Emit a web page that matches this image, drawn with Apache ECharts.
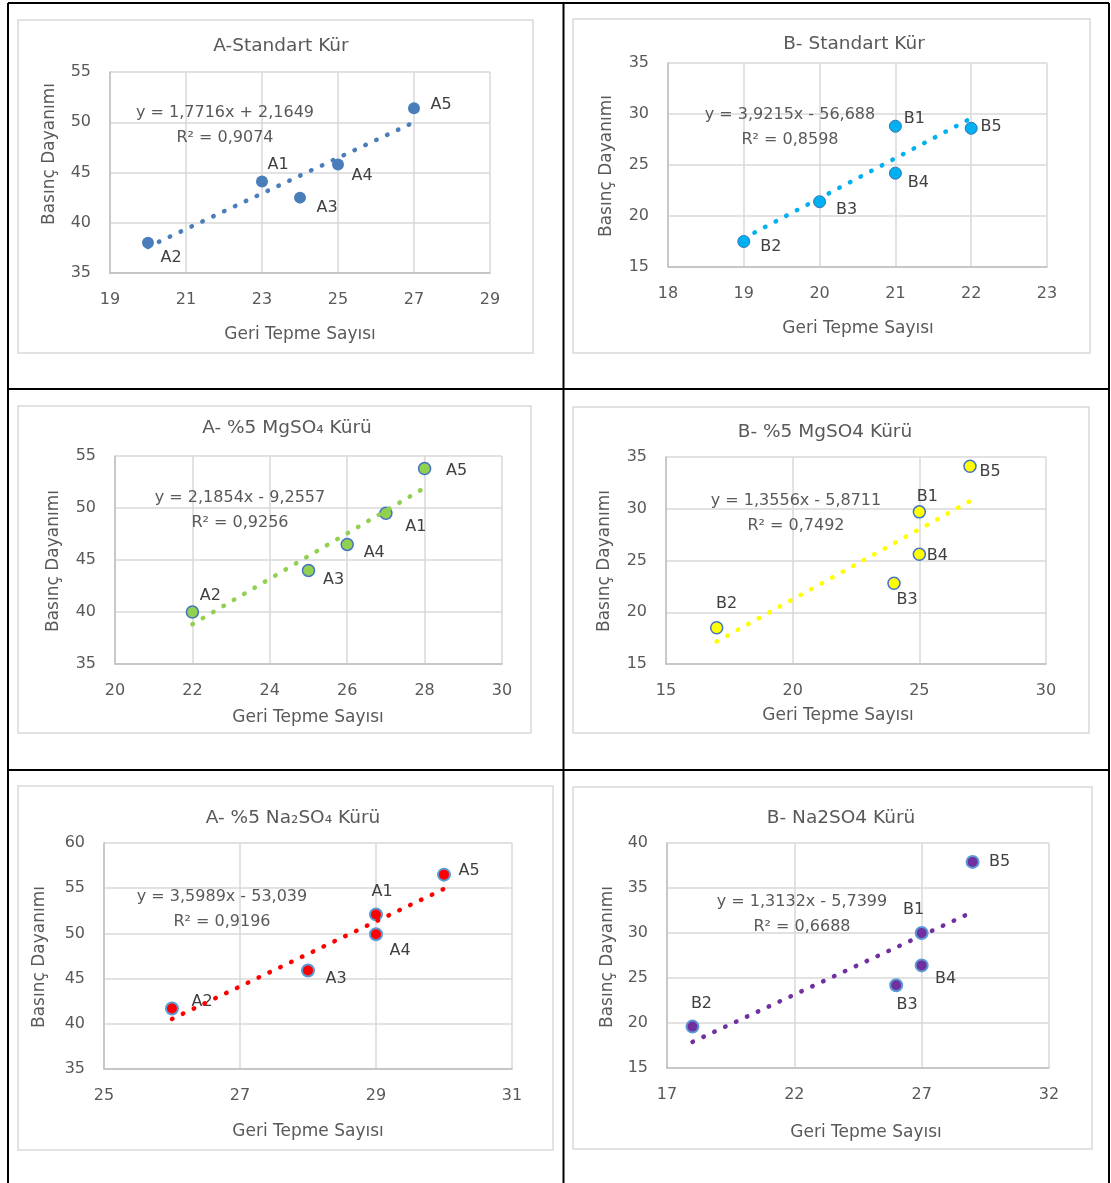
<!DOCTYPE html>
<html>
<head>
<meta charset="utf-8">
<title>Geri Tepme Sayısı - Basınç Dayanımı</title>
<script src="https://cdn.jsdelivr.net/npm/echarts@6/dist/echarts.min.js"></script>
<style>
  html, body { margin: 0; padding: 0; background: #fff; }
  #main { width: 1111px; height: 1183px; }
</style>
</head>
<body>
<div id="main"></div>
<script>
// numune isimleri
var aNames = ['A1', 'A2', 'A3', 'A4', 'A5'];
var bNames = ['B1', 'B2', 'B3', 'B4', 'B5'];

// standart kür (x: geri tepme sayısı, y: basınç dayanımı)
var aStdX = [23, 20, 24, 25, 27];
var aStdY = [44.1, 38.0, 42.5, 45.8, 51.4];
var bStdX = [21, 19, 20, 21, 22];
var bStdY = [28.8, 17.5, 21.4, 24.2, 28.6];
// %5 MgSO4 kürü
var aMgX = [27, 22, 25, 26, 28];
var aMgY = [49.5, 40.0, 44.0, 46.5, 53.8];
var bMgX = [25, 17, 24, 25, 27];
var bMgY = [29.7, 18.5, 22.8, 25.6, 34.1];
// %5 Na2SO4 kürü
var aNaX = [29, 26, 28, 29, 30];
var aNaY = [52.1, 41.7, 45.9, 49.9, 56.5];
var bNaX = [27, 18, 26, 27, 29];
var bNaY = [30.0, 19.6, 24.2, 26.4, 37.9];

// doğrusal eğilim çizgisi katsayıları (grafiklerde yazan)
var slopes = [1.7716, 3.9215, 2.1854, 1.3556, 3.5989, 1.3132];
var intercepts = [2.1649, -56.688, -9.2557, -5.8711, -53.039, -5.7399];
var r2 = [0.9074, 0.8598, 0.9256, 0.7492, 0.9196, 0.6688];

var titles = ['A-Standart Kür', 'B- Standart Kür', 'A- %5 MgSO\u2084 Kürü',
  'B- %5 MgSO4 Kürü', 'A- %5 Na\u2082SO\u2084 Kürü', 'B- Na2SO4 Kürü'];
var xTitle = 'Geri Tepme Sayısı';
var yTitle = 'Basınç Dayanımı';

// eksen ölçekleri: [min, max, aralık]
var xTicks = [[19, 29, 2], [18, 23, 1], [20, 30, 2], [15, 30, 5], [25, 31, 2], [17, 32, 5]];
var yTicks = [[35, 55, 5], [15, 35, 5], [35, 55, 5], [15, 35, 5], [35, 60, 5], [15, 40, 5]];

(function () {
  var myChart = echarts.init(document.getElementById('main'));
  var FONT = '"DejaVu Sans", sans-serif';
  var GRAY = '#595959';

  // her panelin yerleşimi ve renkleri
  var panels = [
    { x: aStdX, y: aStdY, names: aNames, fill: '#4a7ebb', border: '#4a7ebb', bw: 0, trend: '#4a7ebb',
      grid: [110, 72, 380, 201], frame: [18, 20, 515, 333], title: [281, 46], eq: [225, 125.5],
      xName: [300, 335], yName: [50, 154],
      lbl: [[16, -17], [23, 15], [27, 10], [24, 11], [27, -3]] },
    { x: bStdX, y: bStdY, names: bNames, fill: '#00b0f0', border: '#2e75b6', bw: 1, trend: '#00b0f0',
      grid: [668, 63, 379, 204], frame: [573, 19, 517, 334], title: [854, 44], eq: [790, 127.5],
      xName: [858, 329], yName: [607, 166],
      lbl: [[19, -7], [27, 5], [27, 8], [23, 10], [20, -1]] },
    { x: aMgX, y: aMgY, names: aNames, fill: '#92d050', border: '#4472c4', bw: 1.5, trend: '#92d050',
      grid: [115, 456, 387, 208], frame: [18, 406, 513, 327], title: [287, 428.5], eq: [240, 510],
      xName: [308, 718], yName: [53.5, 561],
      lbl: [[30, 14], [18, -16], [25, 9], [27, 8], [32, 2]] },
    { x: bMgX, y: bMgY, names: bNames, fill: '#ffff00', border: '#4472c4', bw: 1.5, trend: '#ffff00',
      grid: [666, 457, 380, 207], frame: [573, 407, 516, 326], title: [825, 432], eq: [796, 513],
      xName: [838, 716], yName: [605, 561],
      lbl: [[8, -15], [10, -24], [13, 17], [18, 2], [20, 6]] },
    { x: aNaX, y: aNaY, names: aNames, fill: '#ff0000', border: '#5b9bd5', bw: 2, trend: '#ff0000',
      grid: [104, 843, 408, 226], frame: [18, 786, 535, 364], title: [293, 818], eq: [222, 909],
      xName: [308, 1132], yName: [40, 957],
      lbl: [[6, -23], [30, -7], [28, 8], [24, 17], [25, -4]] },
    { x: bNaX, y: bNaY, names: bNames, fill: '#7030a0', border: '#5b9bd5', bw: 2, trend: '#7030a0',
      grid: [667, 843, 382, 225], frame: [573, 787, 519, 362], title: [841, 818], eq: [802, 914],
      xName: [866, 1133], yName: [608, 957],
      lbl: [[-8, -23], [9, -23], [11, 20], [24, 13], [27, 0]] }
  ];

  function num(v) {
    return String(Math.abs(v)).replace('.', ',');
  }

  var grids = [], xAxes = [], yAxes = [], series = [], graphics = [];

  // tablo çizgileri
  [[8, 3, 8, 1183], [563.5, 3, 563.5, 1183], [1109, 3, 1109, 1183],
   [8, 3, 1109, 3], [8, 389, 1109, 389], [8, 770, 1109, 770]].forEach(function (l) {
    graphics.push({
      type: 'line', silent: true, z: 1,
      shape: { x1: l[0], y1: l[1], x2: l[2], y2: l[3] },
      style: { stroke: '#000', lineWidth: 2 }
    });
  });

  panels.forEach(function (p, i) {
    grids.push({ left: p.grid[0], top: p.grid[1], width: p.grid[2], height: p.grid[3] });

    xAxes.push({
      type: 'value', gridIndex: i,
      min: xTicks[i][0], max: xTicks[i][1], interval: xTicks[i][2],
      axisLine: { show: true, lineStyle: { color: '#bfbfbf', width: 1.5 } },
      axisTick: { show: false },
      axisLabel: { margin: 19, color: GRAY, fontSize: 16, fontFamily: FONT },
      splitLine: { show: true, lineStyle: { color: '#d9d9d9', width: 1.5 } }
    });
    yAxes.push({
      type: 'value', gridIndex: i,
      min: yTicks[i][0], max: yTicks[i][1], interval: yTicks[i][2],
      axisLine: { show: true, lineStyle: { color: '#bfbfbf', width: 1.5 } },
      axisTick: { show: false },
      axisLabel: { margin: 19, color: GRAY, fontSize: 16, fontFamily: FONT },
      splitLine: { show: true, lineStyle: { color: '#d9d9d9', width: 1.5 } }
    });

    // noktalar + etiketler
    series.push({
      type: 'scatter', xAxisIndex: i, yAxisIndex: i,
      symbolSize: 12, z: 3,
      itemStyle: { color: p.fill, borderColor: p.border, borderWidth: p.bw, opacity: 1 },
      label: {
        show: true, position: 'inside', color: '#404040', fontSize: 16, fontFamily: FONT,
        formatter: function (d) { return p.names[d.dataIndex]; }
      },
      data: p.x.map(function (xv, k) {
        return { value: [xv, p.y[k]], label: { offset: p.lbl[k] } };
      })
    });

    // eğilim çizgisi (noktalı)
    var x0 = Math.min.apply(null, p.x), x1 = Math.max.apply(null, p.x);
    series.push({
      type: 'line', xAxisIndex: i, yAxisIndex: i,
      symbol: 'none', silent: true, z: 4,
      lineStyle: { color: p.trend, width: 4.5, type: [0.5, 11.5], cap: 'round' },
      data: [[x0, slopes[i] * x0 + intercepts[i]], [x1, slopes[i] * x1 + intercepts[i]]]
    });

    // grafik çerçevesi
    graphics.push({
      type: 'rect', silent: true, z: 1,
      shape: { x: p.frame[0], y: p.frame[1], width: p.frame[2], height: p.frame[3] },
      style: { fill: null, stroke: '#d9d9d9', lineWidth: 1.5 }
    });
    // başlık
    graphics.push({
      type: 'text', x: p.title[0], y: p.title[1], z: 5,
      style: { text: titles[i], fill: GRAY, font: '18.5px ' + FONT, align: 'center', verticalAlign: 'middle' }
    });
    // eksen başlıkları
    graphics.push({
      type: 'text', x: p.xName[0], y: p.xName[1], z: 5,
      style: { text: xTitle, fill: GRAY, font: '17px ' + FONT, align: 'center', verticalAlign: 'middle' }
    });
    graphics.push({
      type: 'text', x: p.yName[0], y: p.yName[1], rotation: Math.PI / 2, z: 5,
      style: { text: yTitle, fill: GRAY, font: '17px ' + FONT, align: 'center', verticalAlign: 'middle' }
    });
    // denklem
    var eq = 'y = ' + num(slopes[i]) + 'x ' + (intercepts[i] < 0 ? '- ' : '+ ') + num(intercepts[i]) +
      '\nR² = ' + num(r2[i]);
    graphics.push({
      type: 'text', x: p.eq[0], y: p.eq[1], z: 5,
      style: { text: eq, fill: GRAY, font: '16px ' + FONT, lineHeight: 25, align: 'center', verticalAlign: 'middle' }
    });
  });

  var option = {
    animation: false,
    backgroundColor: '#fff',
    grid: grids,
    xAxis: xAxes,
    yAxis: yAxes,
    series: series,
    graphic: graphics
  };

  myChart.setOption(option);

  window.addEventListener('resize', function () {
    myChart.resize();
  });
})();
</script>
</body>
</html>
